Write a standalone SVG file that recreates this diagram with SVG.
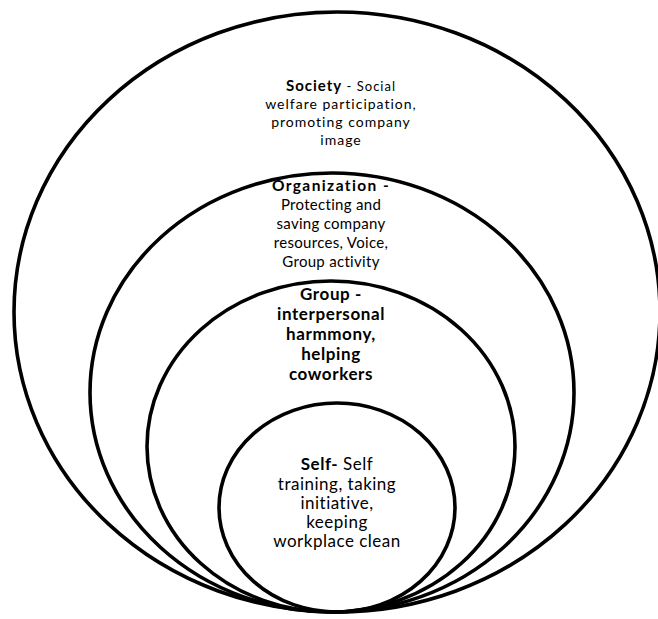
<svg xmlns="http://www.w3.org/2000/svg" width="658" height="619" viewBox="0 0 658 619">
<style>
.ring{fill:none;stroke:#000;stroke-width:3.6}
text{font-family:Lato,"Liberation Sans",sans-serif;fill:#000;text-anchor:middle}
.b{font-weight:bold}
.soc{font-size:14px;letter-spacing:1px}
.org{font-size:15px;letter-spacing:0.3px}
.orgh{font-size:15.5px;font-weight:bold;letter-spacing:1.4px}
.grp{font-size:17px;font-weight:bold;letter-spacing:0.6px}
.self{font-size:17px;letter-spacing:0.5px}
</style>
<rect width="658" height="619" fill="#fff"/>
<g id="society">
<ellipse class="ring" cx="337" cy="312" rx="323" ry="300"/>
<text class="soc" x="341" y="91"><tspan class="b" font-size="15">Society</tspan><tspan font-size="13"> - Social</tspan></text>
<text class="soc" x="341" y="109">welfare participation,</text>
<text class="soc" x="341" y="127">promoting company</text>
<text class="soc" x="341" y="145">image</text>
</g>
<g id="organization">
<ellipse class="ring" cx="332" cy="392.5" rx="242" ry="219.5"/>
<text class="orgh" x="331" y="191">Organization -</text>
<text class="org" x="331" y="210">Protecting and</text>
<text class="org" x="331" y="229">saving company</text>
<text class="org" x="331" y="248">resources, Voice,</text>
<text class="org" x="331" y="267">Group activity</text>
</g>
<g id="group">
<ellipse class="ring" cx="331" cy="446.5" rx="184" ry="165.5"/>
<text class="grp" x="331" y="300">Group -</text>
<text class="grp" x="331" y="320">interpersonal</text>
<text class="grp" x="331" y="340">harmmony,</text>
<text class="grp" x="331" y="360">helping</text>
<text class="grp" x="331" y="380">coworkers</text>
</g>
<g id="self">
<ellipse class="ring" cx="337" cy="507.5" rx="118" ry="104.5"/>
<text class="self" x="337" y="470"><tspan class="b">Self-</tspan> Self</text>
<text class="self" x="337" y="490">training, taking</text>
<text class="self" x="337" y="509">initiative,</text>
<text class="self" x="337" y="528">keeping</text>
<text class="self" x="337" y="547">workplace clean</text>
</g>
<g id="connectors"></g>
</svg>
